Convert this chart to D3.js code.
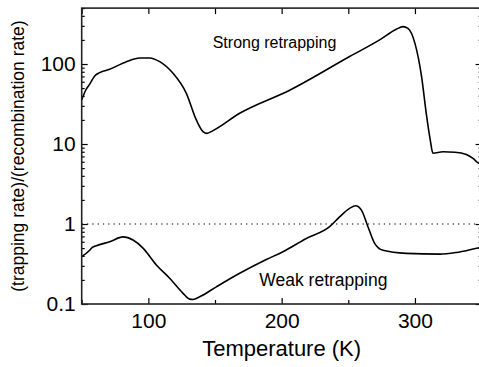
<!DOCTYPE html>
<html>
<head>
<meta charset="utf-8">
<script src="https://cdn.jsdelivr.net/npm/d3@7"></script>
<style>
  html, body { margin: 0; padding: 0; background: #fff; }
  svg { display: block; }
  text { font-family: "Liberation Sans", Arial, sans-serif; fill: #000; }
</style>
</head>
<body>
<svg id="chart" width="479" height="367"></svg>
<script>
// Temperature (K) and ratio of trapping rate to recombination rate
const strongT = [50, 53, 56, 59.75, 63.5, 71, 83.5, 93.5, 101, 108.5, 118.5, 128.5, 136, 141, 144, 148.5, 168.5, 206, 251, 273.5, 286, 291, 294.75, 300, 305, 308.5, 311.5, 313.5, 321, 330, 338.5, 343.5, 347.5, 350];
const strongRatio = [35.5, 47, 56, 71, 78, 86, 107, 119, 119, 107, 76.5, 43, 20, 14.3, 13.6, 14.7, 24.2, 47, 124, 200, 272, 293, 279, 181, 69, 24, 11.2, 7.65, 8.0, 7.9, 7.4, 6.6, 5.8, 5.5];

const weakT = [50, 56, 58, 61, 71, 81, 88.5, 96, 106, 116, 126, 131, 133.5, 138.5, 151, 168.5, 188.5, 201, 218.5, 236, 243.5, 251, 255.5, 259.75, 264.75, 269.75, 276, 293.5, 318.5, 331, 347.2, 350];
const weakRatio = [0.39, 0.47, 0.51, 0.535, 0.60, 0.69, 0.63, 0.50, 0.307, 0.21, 0.136, 0.115, 0.114, 0.123, 0.164, 0.242, 0.36, 0.45, 0.66, 0.925, 1.23, 1.57, 1.69, 1.50, 0.925, 0.574, 0.47, 0.43, 0.42, 0.44, 0.50, 0.51];

const xMajorTicks = [100, 200, 300];
const xMinorTicks = [50, 150, 250, 350];
const yMajorTicks = [0.1, 1, 10, 100];
const yTickLabels = ["0.1", "1", "10", "100"];
const referenceRatio = 1;

const svg = d3.select("#chart");
const plotLeft = 81.7, plotRight = 481.6, plotTop = 8.1, plotBottom = 304;

const x = d3.scaleLinear().domain([50, 350]).range([plotLeft, plotRight]);
const y = d3.scaleLog().domain([0.1, 500]).range([plotBottom, plotTop]);

// minor ticks at 2..9 within each decade
const yMinorTicks = [];
[0.1, 1, 10, 100].forEach(d => { for (let k = 2; k <= 9; k++) { const v = d * k; if (v <= 500) yMinorTicks.push(v); } });

svg.append("defs").append("clipPath").attr("id", "plotclip")
  .append("rect").attr("x", plotLeft).attr("y", plotTop)
  .attr("width", plotRight - plotLeft).attr("height", plotBottom - plotTop);

// reference line at ratio = 1
svg.append("line")
  .attr("x1", plotLeft).attr("x2", plotRight)
  .attr("y1", y(referenceRatio)).attr("y2", y(referenceRatio))
  .attr("stroke", "#000").attr("stroke-width", 1.2)
  .attr("stroke-dasharray", "1.3,4");

const line = d3.line().curve(d3.curveMonotoneX);
const g = svg.append("g").attr("clip-path", "url(#plotclip)");
g.append("path")
  .attr("d", line(strongT.map((t, i) => [x(t), y(strongRatio[i])])))
  .attr("fill", "none").attr("stroke", "#000").attr("stroke-width", 1.6);
g.append("path")
  .attr("d", line(weakT.map((t, i) => [x(t), y(weakRatio[i])])))
  .attr("fill", "none").attr("stroke", "#000").attr("stroke-width", 1.6);

function styleAxis(sel) {
  sel.select(".domain").remove();
  sel.selectAll(".tick line").attr("stroke", "#000").attr("stroke-width", 1.2);
  sel.selectAll("text").style("font-family", "'Liberation Sans', Arial, sans-serif").attr("fill", "#000");
}

// bottom axis
svg.append("g").attr("transform", `translate(0,${plotBottom})`)
  .call(d3.axisBottom(x).tickValues(xMajorTicks).tickSize(-6).tickPadding(9).tickFormat(d3.format("d")))
  .call(styleAxis)
  .call(s => s.selectAll("text").style("font-size", "21px"));
svg.append("g").attr("transform", `translate(0,${plotBottom})`)
  .call(d3.axisBottom(x).tickValues(xMinorTicks).tickSize(-4).tickFormat(""))
  .call(styleAxis);
// top axis
svg.append("g").attr("transform", `translate(0,${plotTop})`)
  .call(d3.axisTop(x).tickValues(xMajorTicks.concat(xMinorTicks)).tickSize(-6).tickFormat(""))
  .call(styleAxis);

// left axis
svg.append("g").attr("transform", `translate(${plotLeft},0)`)
  .call(d3.axisLeft(y).tickValues(yMajorTicks).tickSize(-6).tickPadding(6)
    .tickFormat((d, i) => yTickLabels[i]))
  .call(styleAxis)
  .call(s => s.selectAll("text").style("font-size", "21px"));
svg.append("g").attr("transform", `translate(${plotLeft},0)`)
  .call(d3.axisLeft(y).tickValues(yMinorTicks).tickSize(-3).tickFormat(""))
  .call(styleAxis);
// right axis
svg.append("g").attr("transform", `translate(${plotRight},0)`)
  .call(d3.axisRight(y).tickValues(yMajorTicks).tickSize(-6).tickFormat(""))
  .call(styleAxis);
svg.append("g").attr("transform", `translate(${plotRight},0)`)
  .call(d3.axisRight(y).tickValues(yMinorTicks).tickSize(-3).tickFormat(""))
  .call(styleAxis);

// frame
svg.append("rect")
  .attr("x", plotLeft).attr("y", plotTop)
  .attr("width", plotRight - plotLeft).attr("height", plotBottom - plotTop)
  .attr("fill", "none").attr("stroke", "#222").attr("stroke-width", 1.6);

// titles
svg.append("text")
  .attr("x", x(200)).attr("y", 356)
  .attr("text-anchor", "middle").style("font-size", "22px")
  .text("Temperature (K)");
svg.append("text")
  .attr("transform", `translate(23.5,${(plotTop + plotBottom) / 2}) rotate(-90)`)
  .attr("text-anchor", "middle").style("font-size", "17.5px")
  .text("(trapping rate)/(recombination rate)");

// annotations
svg.append("text").attr("x", 212.7).attr("y", 48).style("font-size", "16px").text("Strong retrapping");
svg.append("text").attr("x", 259.3).attr("y", 285.5).style("font-size", "17.5px").text("Weak retrapping");
</script>
</body>
</html>
